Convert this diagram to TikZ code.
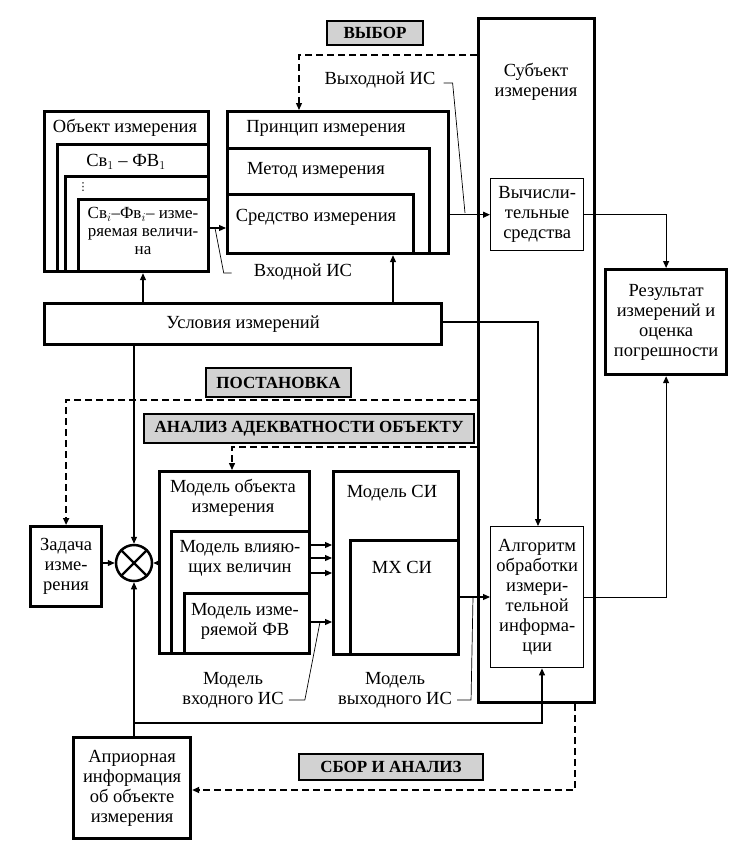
\documentclass[tikz,border=0pt]{standalone}
\usepackage{fontspec}
\setmainfont{Liberation Serif}
\newfontfamily\djv{DejaVu Sans}
\usetikzlibrary{arrows.meta}
\newcommand\rb[6]{\node[#1, minimum width={#4-#2}, minimum height={#5-#3}] (#6) at (#2,#3) {};}
\begin{document}
\begin{tikzpicture}[x=1pt,y=-1pt,
  font=\fontsize{18.5}{20}\selectfont,
  thk/.style={draw, line width=3.2pt, inner sep=0pt, anchor=north west, align=center},
  thn/.style={draw, line width=1.4pt, inner sep=0pt, anchor=north west, align=center},
  tag/.style={draw, line width=2pt, fill=gray!35, inner sep=0pt, anchor=north west,
    font=\fontsize{17}{20}\selectfont\bfseries},
  lbl/.style={align=center, inner sep=0pt},
  arr/.style={-{Triangle[length=7pt,width=6pt]}, line width=1.1pt},
  dsh/.style={dash pattern=on 7pt off 4pt, line width=1.7pt},
  leader/.style={line width=0.7pt}]
\useasboundingbox (0,0) rectangle (753,857);
% top tag
\node[tag, minimum width=96, minimum height=24] (vybor) at (326,20) {ВЫБОР};
% subject
\rb{thk}{477}{17}{593}{701}{subj}
\node[lbl] (subjT) at (536,82) {Субъект\\измерения};
\node[thn, minimum width=93, minimum height=72] (comp) at (490,178) {Вычисли-\\тельные\\средства};
\node[thk, minimum width=121, minimum height=105] (result) at (604,268) {Результат\\измерений и\\оценка\\погрешности};
% object
\rb{thk}{43}{110}{207}{270}{obj}
\rb{thk}{56}{143}{207}{270}{sv1}
\rb{thk}{64}{175}{207}{270}{sv3}
\rb{thk}{77}{198}{207}{270}{svi}
\node[lbl] (objT) at (125,128) {Объект измерения};
\node[lbl] (sv1T) at (126,162) {Св$_1$ – ФВ$_1$};
\node[lbl, font=\djv\fontsize{11}{11}\selectfont] (sv3T) at (83,187) {⋮};
\node[lbl, font=\fontsize{17}{18}\selectfont] (sviT) at (143,231) {Св$_i$–Фв$_i$– изме-\\ряемая величи-\\на};
% principle
\rb{thk}{226}{110}{447}{252}{prin}
\rb{thk}{226}{147}{428}{252}{meth}
\rb{thk}{226}{193}{412}{252}{sred}
\node[lbl] (prinT) at (326,128) {Принцип измерения};
\node[lbl] (methT) at (316,170) {Метод измерения};
\node[lbl] (sredT) at (316,217) {Средство измерения};
\node[lbl] (vyhIS) at (380,80) {Выходной ИС};
\node[lbl] (vhIS) at (303,272) {Входной ИС};
% conditions
\node[thk, minimum width=397, minimum height=41] (usl) at (43,302) {Условия измерений};
% tags
\node[tag, minimum width=145, minimum height=29] (post) at (205,367) {ПОСТАНОВКА};
\node[tag, minimum width=330, minimum height=29] (anal) at (143,413) {АНАЛИЗ АДЕКВАТНОСТИ ОБЪЕКТУ};
\node[tag, minimum width=184, minimum height=26] (sbor) at (298,753) {СБОР И АНАЛИЗ};
% task & multiplier
\node[thk, minimum width=71, minimum height=80] (task) at (29,525) {Задача\\изме-\\рения};
\node[circle, draw, line width=2.5pt, minimum size=36pt, inner sep=0pt] (mult) at (134,563) {};
\draw[line width=2.2pt] (mult.north west) -- (mult.south east) (mult.north east) -- (mult.south west);
% model of object
\rb{thk}{158}{470}{308}{652}{modobj}
\rb{thk}{170}{530}{308}{652}{modvl}
\rb{thk}{183}{592}{308}{652}{modfv}
\node[lbl] (modobjT) at (233,498) {Модель объекта\\измерения};
\node[lbl] (modvlT) at (240,558) {Модель влияю-\\щих величин};
\node[lbl] (modfvT) at (245,621) {Модель изме-\\ряемой ФВ};
% model SI
\rb{thk}{332}{470}{457}{653}{modsi}
\rb{thk}{349}{539}{457}{653}{mxsi}
\node[lbl] (modsiT) at (392,493) {Модель СИ};
\node[lbl] (mxsiT) at (402,567) {МХ СИ};
\node[lbl] (mvhIS) at (233,690) {Модель\\входного ИС};
\node[lbl] (mvyhIS) at (395,690) {Модель\\выходного ИС};
% algorithm
\node[thn, minimum width=93, minimum height=141] (alg) at (490,526) {Алгоритм\\обработки\\измери-\\тельной\\информа-\\ции};
% a priori
\node[thk, minimum width=117, minimum height=101] (apr) at (72,736) {Априорная\\информация\\об объекте\\измерения};
% coordinates for leaders
\coordinate (vyhP) at (465,213);
\coordinate (vhP) at (215,228);
\coordinate (mvhP) at (320,622);
\coordinate (mvyhP) at (473,597);
% arrows
\draw[arr] (obj.east |- 0,228) -- (prin.west |- 0,228);
\draw[arr] (prin.east |- comp) -- (comp.west);
\draw[arr] (comp.east) -| (result.north);
\draw[arr] (alg.east) -| (result.south);
\draw[arr] (usl.north -| 143,0) -- (obj.south -| 143,0);
\draw[arr] (usl.north -| 393,0) -- (prin.south -| 393,0);
\draw[arr] (usl.east |- 0,322) -| (alg.north -| 538,0);
\draw[arr] (usl.south -| mult) -- (mult.north);
\draw[arr] (task.east |- mult) -- (mult.west);
\draw[arr] (modobj.west |- mult) -- (mult.east);
\draw[arr] (mult.south |- apr.north) -- (mult.south);
\draw[arr] (mult.south |- 0,723) -| (alg.south -| 542,0);
\foreach \yy in {545,558,573,622}
  \draw[arr] (modobj.east |- 0,\yy) -- (modsi.west |- 0,\yy);
\draw[arr] (modsi.east |- 0,597) -- (alg.west |- 0,597);
% dashed feedback
\draw[arr, dsh, line width=1.2pt] (subj.west |- 0,55) -| (prin.north -| 299,0);
\draw[arr, dsh] (subj.west |- 0,400) -| (task.north);
\draw[arr, dsh, line width=1.4pt] (subj.west |- 0,447) -| (modobj.north -| 232,0);
\draw[arr, dsh] (subj.south -| 575,0) |- (apr.east |- 0,790);
% leaders
\draw[leader] (vyhIS.east |- 0,83) ++(8,0) -- ++(9,0) -- (vyhP);
\draw[leader] (vhIS.west |- 0,273) ++(-22,0) -- ++(-8,0) -- (vhP);
\draw[leader] (mvhIS.east |- 0,700) ++(5,0) -- ++(16,0) -- (mvhP);
\draw[leader] (mvyhIS.east |- 0,700) ++(5,0) -- ++(14,0) -- (mvyhP);
\end{tikzpicture}
\end{document}
